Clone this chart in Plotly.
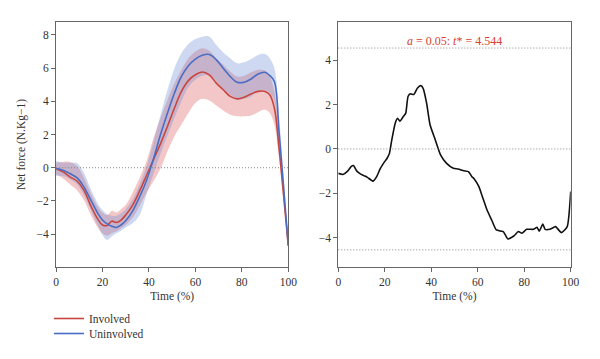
import plotly.graph_objects as go

# ---- data: left panel (mean and band limits) ----
time_pct = [0, 3, 6, 9, 12, 15, 18, 20, 22, 24, 26, 28, 30, 33, 36, 39, 42, 45, 48, 51,
            54, 57, 60, 63, 66, 69, 72, 75, 78, 81, 84, 87, 90, 92, 94, 96, 98, 100]

involved_mean = [-0.05, -0.25, -0.55, -0.8, -1.35, -2.3, -3.1, -3.45, -3.48, -3.22, -3.3, -3.15,
                 -2.85, -2.25, -1.4, -0.45, 0.5, 1.45, 2.5, 3.6, 4.6, 5.25, 5.6, 5.77, 5.6, 5.1,
                 4.7, 4.3, 4.15, 4.25, 4.45, 4.6, 4.6, 4.4, 3.6, 1.2, -1.7, -4.7]
involved_lo = [-0.4, -0.65, -1.0, -1.35, -1.95, -2.85, -3.6, -3.95, -4.1, -3.95, -3.85, -3.65,
               -3.45, -3.0, -2.3, -1.5, -0.8, -0.05, 1.0, 1.9, 2.6, 3.3, 3.9, 4.15, 4.05, 3.75,
               3.45, 3.2, 3.1, 3.1, 3.15, 3.35, 3.5, 3.3, 2.6, 0.6, -2.1, -4.8]
involved_hi = [0.3, 0.35, 0.35, 0.1, -0.6, -1.55, -2.35, -2.7, -2.85, -2.6, -2.7, -2.5,
               -2.25, -1.5, -0.6, 0.4, 1.8, 3.0, 4.1, 5.1, 5.9, 6.6, 7.0, 7.2, 7.05, 6.6,
               6.2, 5.8, 5.5, 5.55, 5.75, 5.9, 5.85, 5.5, 4.6, 2.0, -1.2, -4.6]

uninvolved_mean = [-0.05, -0.15, -0.35, -0.6, -1.15, -1.95, -2.75, -3.15, -3.38, -3.52, -3.6, -3.45,
                   -3.2, -2.6, -1.75, -0.75, 0.55, 2.0, 3.3, 4.5, 5.5, 6.15, 6.55, 6.78, 6.82, 6.5,
                   6.0, 5.5, 5.15, 5.15, 5.35, 5.65, 5.75, 5.55, 5.2, 2.2, -1.2, -4.7]
uninvolved_lo = [-0.5, -0.5, -0.7, -1.0, -1.65, -2.55, -3.5, -4.05, -4.35, -4.15, -3.95, -3.8,
                 -3.6, -3.35, -2.85, -1.6, -0.35, 0.85, 1.95, 3.0, 4.0, 4.85, 5.3, 5.55, 5.55, 5.2,
                 4.75, 4.4, 4.1, 4.15, 4.3, 4.6, 4.65, 4.5, 4.0, 1.3, -1.8, -4.8]
uninvolved_hi = [0.4, 0.3, 0.3, 0.28, -0.3, -1.3, -2.15, -2.55, -2.8, -2.9, -2.9, -2.75,
                 -2.5, -1.9, -1.0, 0.1, 1.6, 3.2, 4.7, 6.0, 6.9, 7.45, 7.75, 7.9, 7.9, 7.4,
                 6.95, 6.6, 6.3, 6.35, 6.55, 6.8, 6.85, 6.6, 6.0, 3.2, -0.6, -4.6]

# ---- data: right panel (SPM t statistic) ----
spm_time = [0, 2, 4, 5.5, 6.5, 8, 9.5, 11, 12.5, 15, 16.5, 18, 19.5, 21, 22, 23, 24.5, 25.5, 26.5, 28,
            29, 30, 31, 32.5, 34, 35.5, 36.5, 38, 39.5, 41.5, 44, 46.5, 49.5, 51.5, 54, 56, 57.5, 58.5, 60.5, 62,
            64, 66, 68, 70, 71, 73, 75.5, 77.5, 79, 81, 84, 85.5, 86.5, 88, 89, 91, 93.5, 96, 98.5, 100]
spm_t = [-1.1, -1.15, -1.0, -0.8, -0.75, -1.0, -1.12, -1.2, -1.28, -1.45,
         -1.25, -0.9, -0.64, -0.42, -0.2, 0.4, 1.16, 1.38, 1.25, 1.46,
         1.6, 2.36, 2.48, 2.45, 2.73, 2.85, 2.73, 2.06, 1.08, 0.48,
         -0.27, -0.64, -0.87, -0.9, -0.98, -1.02, -1.25, -1.35, -1.7, -2.15,
         -2.75, -3.2, -3.65, -3.7, -3.72, -4.05, -3.92, -3.72, -3.8, -3.62,
         -3.62, -3.53, -3.7, -3.38, -3.62, -3.62, -3.5, -3.77, -3.5, -1.92]
t_crit = 4.544

left_ticks = [-4, -2, 0, 2, 4, 6, 8]
right_ticks = [-4, -2, 0, 2, 4]
x_ticks = [0, 20, 40, 60, 80, 100]

RED = "#c8463f"
BLUE = "#4a6cc3"
RED_BAND = "rgba(222,95,95,0.35)"
BLUE_BAND = "rgba(105,140,212,0.33)"
FONT = "Liberation Serif"

# page body has an 8px margin: place the figure's pieces 8px up/left to compensate
W, H, OFF = 600.0, 359.0, 8.0
def xd(a, b):
    return [(a - OFF) / W, (b - OFF) / W]
def yd(top, bottom):
    return [1 - (bottom - OFF) / H, 1 - (top - OFF) / H]

fig = go.Figure()

def band(lo, hi, color):
    fig.add_trace(go.Scatter(x=time_pct, y=lo, mode="lines", line=dict(width=0, shape="spline"),
                             showlegend=False, hoverinfo="skip", xaxis="x", yaxis="y"))
    fig.add_trace(go.Scatter(x=time_pct, y=hi, mode="lines", line=dict(width=0, shape="spline"),
                             fill="tonexty", fillcolor=color, showlegend=False, hoverinfo="skip",
                             xaxis="x", yaxis="y"))

band(involved_lo, involved_hi, RED_BAND)
band(uninvolved_lo, uninvolved_hi, BLUE_BAND)

fig.add_trace(go.Scatter(x=time_pct, y=involved_mean, mode="lines", name="Involved",
                         line=dict(color=RED, width=1.6, shape="spline"), xaxis="x", yaxis="y",
                         legend="legend"))
fig.add_trace(go.Scatter(x=time_pct, y=uninvolved_mean, mode="lines", name="Uninvolved",
                         line=dict(color=BLUE, width=1.6, shape="spline"), xaxis="x", yaxis="y",
                         legend="legend2"))

fig.add_trace(go.Scatter(x=spm_time, y=spm_t, mode="lines", showlegend=False,
                         line=dict(color="#111111", width=1.6, shape="spline", smoothing=0.5),
                         xaxis="x2", yaxis="y2"))

dot = dict(color="#888888", width=1, dash="1px,2px")
fig.add_shape(type="line", xref="x domain", yref="y", x0=0, x1=1, y0=0, y1=0, line=dot)
for yv in [0, t_crit, -t_crit]:
    fig.add_shape(type="line", xref="x2 domain", yref="y2", x0=0, x1=1, y0=yv, y1=yv, line=dot)

fig.add_annotation(xref="x2", yref="y2", x=50, y=t_crit, yanchor="bottom", yshift=-2,
                   text="<i>a</i> = 0.05: <i>t</i>* = 4.544", showarrow=False,
                   font=dict(family=FONT, size=12, color="#d9412f"))

ax_common = dict(showline=True, linecolor="#666666", linewidth=1, mirror=True, ticks="outside",
                 ticklen=4, tickcolor="#666666", showgrid=False, zeroline=False, automargin=False,
                 tickfont=dict(family=FONT, size=11.5, color="#333333"))

leg_common = dict(xanchor="left", yanchor="top", bgcolor="rgba(0,0,0,0)",
                  font=dict(family=FONT, size=11.5, color="#333333"), itemwidth=30)

fig.update_layout(
    width=600, height=359,
    margin=dict(l=0, r=0, t=0, b=0),
    paper_bgcolor="white", plot_bgcolor="white",
    font=dict(family=FONT, size=11.5, color="#333333"),
    xaxis=dict(domain=xd(56, 288.3), range=[0, 100], tickvals=x_ticks, anchor="y",
               title=dict(text="Time (%)", standoff=4, font=dict(family=FONT, size=11.5)), **ax_common),
    yaxis=dict(domain=yd(21.7, 267.3), range=[-6, 8.8], tickvals=left_ticks, anchor="x",
               title=dict(text="Net force (N.Kg\u22121)", standoff=8, font=dict(family=FONT, size=11.5)),
               **ax_common),
    xaxis2=dict(domain=xd(338.3, 570.7), range=[0, 100], tickvals=x_ticks, anchor="y2",
                title=dict(text="Time (%)", standoff=4, font=dict(family=FONT, size=11.5)), **ax_common),
    yaxis2=dict(domain=yd(21.7, 267.3), range=[-5.33, 5.73], tickvals=right_ticks, anchor="x2",
                **ax_common),
    legend=dict(x=(49 - OFF) / W, y=1 - (304 - OFF) / H, **leg_common),
    legend2=dict(x=(49 - OFF) / W, y=1 - (319 - OFF) / H, **leg_common),
)

fig.write_html("out.html")
